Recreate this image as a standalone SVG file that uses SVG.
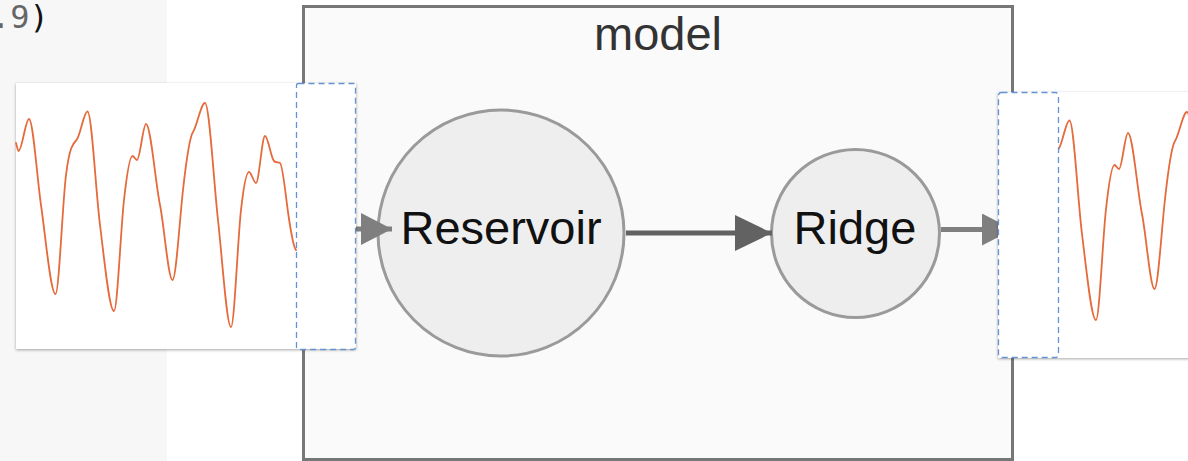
<svg xmlns="http://www.w3.org/2000/svg" xmlns:xlink="http://www.w3.org/1999/xlink" width="1188" height="461" viewBox="0 0 1188 461">
  <style>
    .label { font-family: "Liberation Sans", Arial, sans-serif; text-anchor: middle; }
    .node-circle { fill: #eeeeee; stroke: #9a9a9a; stroke-width: 3; }
    .card { fill: #ffffff; filter: url(#cardShadow); }
    .window { fill: none; stroke: #6393d2; stroke-width: 1.3; stroke-dasharray: 6 4; }
    .series { fill: none; stroke: #e66a3c; stroke-width: 1.8; stroke-linejoin: round; stroke-linecap: round; }
    .edge { stroke-width: 5; fill: none; }
    .edge-light { stroke: #7f7f7f; }
    .edge-dark { stroke: #626262; }
  </style>
  <defs>
    <filter id="cardShadow" x="-5%" y="-5%" width="110%" height="110%">
      <feDropShadow dx="0" dy="1" stdDeviation="1.5" flood-color="#000" flood-opacity="0.35"/>
    </filter>
    <marker id="headLight" markerUnits="userSpaceOnUse" viewBox="0 0 31 32" markerWidth="31" markerHeight="32" refX="31" refY="16" orient="auto">
      <path d="M0,0 L31,16 L0,32 Z" fill="#7f7f7f"/>
    </marker>
    <marker id="headDark" markerUnits="userSpaceOnUse" viewBox="0 0 37 36" markerWidth="37" markerHeight="36" refX="37" refY="18" orient="auto">
      <path d="M0,0 L37,18 L0,36 Z" fill="#626262"/>
    </marker>
    <!-- time series drawn in the input card; the output card reuses it shifted -->
    <path id="wave" d="M16,143 C16.83,145.5 17.67,151 18.5,151 C22,151 25.5,119 29,119 C33,119 37,177 41,205 C45.83,238.8 50.67,294 55.5,294 C59,294 62.5,203 66,175 C69.5,147 73,143.5 76.5,140 C80.17,136.33 83.830,111.5 87.5,111.5 C91.67,111.5 95.83,191.7 100,225 C104.67,262.3 109.33,311 114,311 C117.33,311 120.67,230 124,200 C126.83,174.5 129.67,156 132.5,156 C134,156 135.5,160 137,160 C140,160 143,124 146,124 C150.67,124 155.33,181.7 160,205 C164.17,225.8 168.33,280 172.5,280 C176,280 179.5,221.5 183,190 C186.33,160 189.67,137 193,132 C197,126 201,103 205,103 C209.33,103 213.67,181 218,220 C222.33,259 226.67,327 231,327 C234.33,327 237.67,240 241,210 C243.67,186 246.33,172 249,172 C251.33,172 253.67,183 256,183 C259,183 262,136 265,136 C268,136 271,158 274,161 C276,163 278,162 280,163 C282.67,164.3 285.33,193.3 288,212 C290.67,230.7 293.33,247.3 296,250"/>
    <clipPath id="outClip" clipPathUnits="userSpaceOnUse">
      <rect x="1059" y="92" width="200" height="266"/>
    </clipPath>
  </defs>

  <!-- page background -->
  <rect x="0" y="0" width="1188" height="461" fill="#ffffff"/>
  <rect x="0" y="0" width="167" height="461" fill="#f7f7f7"/>
  <text x="-9" y="28" font-family="'DejaVu Sans Mono', 'Liberation Mono', monospace" font-size="32" fill="#666666">.9<tspan fill="#111111">)</tspan></text>

  <!-- container -->
  <g id="model">
    <rect x="303.5" y="6.5" width="709" height="453" fill="#fafafa" stroke="#777777" stroke-width="3"/>
    <text class="label" x="658" y="50" font-size="47" fill="#333333">model</text>
  </g>

  <g id="reservoir">
    <circle class="node-circle" cx="501" cy="233" r="123"/>
    <text class="label" x="501" y="243.5" font-size="47" fill="#111111">Reservoir</text>
  </g>

  <g id="ridge">
    <circle class="node-circle" cx="855.5" cy="233.5" r="84"/>
    <text class="label" x="855" y="243.5" font-size="47" fill="#111111">Ridge</text>
  </g>

  <g id="connectors">
    <line class="edge edge-light" x1="340" y1="229" x2="392" y2="229" marker-end="url(#headLight)"/>
    <line class="edge edge-dark" x1="626" y1="233" x2="772" y2="233" marker-end="url(#headDark)"/>
    <line class="edge edge-light" x1="941" y1="229.5" x2="1013" y2="229.5" marker-end="url(#headLight)"/>
  </g>

  <g id="input-series">
    <rect class="card" x="16" y="83" width="340" height="266"/>
    <use xlink:href="#wave" href="#wave" class="series"/>
    <rect class="window" x="296.5" y="83.5" width="59" height="266" rx="2"/>
  </g>

  <g id="output-series">
    <rect class="card" x="998" y="92" width="340" height="266"/>
    <g clip-path="url(#outClip)">
      <use xlink:href="#wave" href="#wave" class="series" transform="translate(982,9)"/>
    </g>
    <rect class="window" x="998.5" y="92.5" width="60" height="265" rx="3"/>
  </g>
</svg>
